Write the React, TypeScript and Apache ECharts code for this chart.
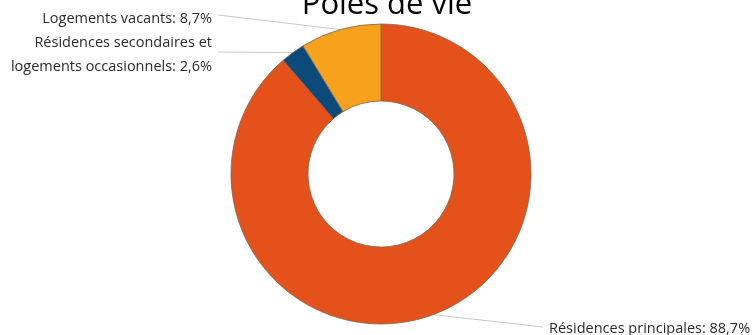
import React, { useEffect, useRef } from "react";
import * as echarts from "echarts";

const categories = [
  "Résidences principales",
  "Résidences secondaires et logements occasionnels",
  "Logements vacants",
];
const values = [88.7, 2.6, 8.7];
const colors = ["#e4511b", "#0c4a7a", "#f8a11c"];
const titleText = "Pôles de vie";

export default function App() {
  const ref = useRef<HTMLDivElement>(null);
  useEffect(() => {
    if (!ref.current) return;
    const chart = echarts.init(ref.current, undefined, { renderer: "svg" });
    const labelFont = "Open Sans";
    chart.setOption({
      animation: false,
      title: {
        text: titleText,
        left: 382,
        textAlign: "center",
        top: -19,
        textStyle: { fontFamily: "Open Sans", fontWeight: "normal", fontSize: 31, color: "#000" },
      },
      series: [
        {
          type: "pie",
          center: [381, 174],
          radius: [73, 150],
          startAngle: 90,
          clockwise: true,
          itemStyle: { borderColor: "#7d6650", borderWidth: 0.8 },
          label: {
            show: true,
            position: "outside",
            fontFamily: labelFont,
            fontSize: 14.5,
            color: "#2a2a2a",
            lineHeight: 24,
            formatter: (p: any) => {
              const name = String(p.name).replace(" et ", " et\n");
              return name + ": " + String(p.value).replace(".", ",") + "%";
            },
          },
          labelLine: { show: true, lineStyle: { color: "#c8c8c8", width: 1 }, length: 10, length2: 10 },
          labelLayout: (params: any) => {
            const s = params.labelLinePoints ? params.labelLinePoints[0] : [0, 0];
            if (params.dataIndex === 0) {
              return { x: 549, y: 327, align: "left", verticalAlign: "middle", labelLinePoints: [s, [543, 327]] };
            }
            if (params.dataIndex === 1) {
              return { x: 212, y: 53, align: "right", verticalAlign: "middle", labelLinePoints: [s, [218, 52]] };
            }
            return { x: 212, y: 17, align: "right", verticalAlign: "middle", labelLinePoints: [s, [218, 15]] };
          },
          data: categories.map((c, i) => ({ name: c, value: values[i], itemStyle: { color: colors[i] } })),
        },
      ],
    });
    return () => chart.dispose();
  }, []);
  return <div ref={ref} style={{ position: "fixed", left: 0, top: 0, width: 754, height: 335 }} />;
}
